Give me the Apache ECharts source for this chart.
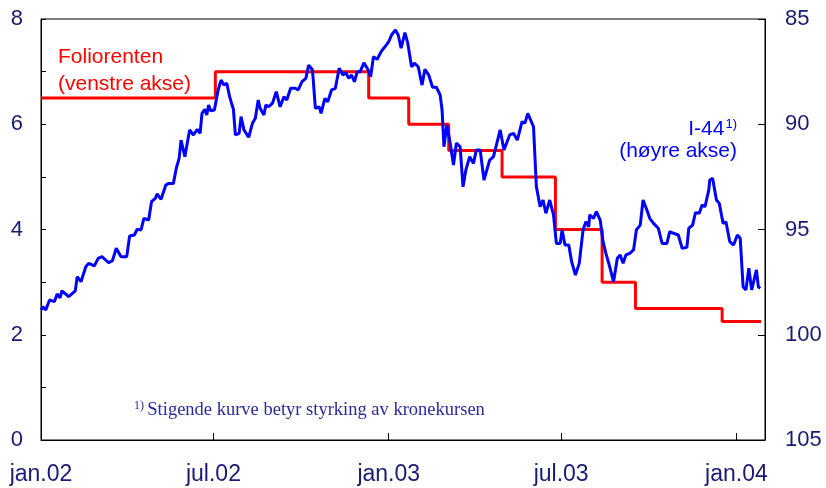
<!DOCTYPE html>
<html>
<head>
<meta charset="utf-8">
<script src="https://cdn.jsdelivr.net/npm/echarts@6/dist/echarts.min.js"></script>
<style>
    html, body { margin: 0; padding: 0; background: #fff; }
    #chart { width: 826px; height: 488px; }
</style>
</head>
<body>
<div id="chart"></div>
<script>
'use strict';

// Foliorenten, venstre akse (trappetrinn ved rentemøtene)
var rateDates = ['2002-01-01', '2002-07-03', '2002-12-11', '2003-01-22', '2003-03-05', '2003-04-30',
    '2003-06-25', '2003-08-13', '2003-09-17', '2003-12-17', '2004-01-27'];
var rateValues = [6.5, 7.0, 6.5, 6.0, 5.5, 5.0, 4.0, 3.0, 2.5, 2.25, 2.25];

// I-44, høyre akse (invertert)
var indexDates = [
    '2002-01-01', '2002-01-03', '2002-01-06', '2002-01-10', '2002-01-15', '2002-01-18', '2002-01-21', '2002-01-23', '2002-01-30',
    '2002-02-06', '2002-02-08', '2002-02-12', '2002-02-17', '2002-02-20', '2002-02-26', '2002-03-02', '2002-03-06', '2002-03-13', '2002-03-17', '2002-03-21', '2002-03-26', '2002-04-01',
    '2002-04-04', '2002-04-09', '2002-04-12', '2002-04-16', '2002-04-19', '2002-04-24', '2002-04-27', '2002-05-01', '2002-05-03', '2002-05-07', '2002-05-12', '2002-05-15',
    '2002-05-20', '2002-05-23', '2002-05-26', '2002-05-28', '2002-06-01', '2002-06-06', '2002-06-10', '2002-06-14', '2002-06-17', '2002-06-19', '2002-06-22', '2002-06-24', '2002-06-26', '2002-06-28',
    '2002-07-02', '2002-07-06', '2002-07-09', '2002-07-12', '2002-07-15', '2002-07-18', '2002-07-20', '2002-07-22', '2002-07-24', '2002-07-28', '2002-07-30', '2002-08-02', '2002-08-07', '2002-08-11', '2002-08-14',
    '2002-08-17', '2002-08-19', '2002-08-23', '2002-08-25', '2002-08-28', '2002-09-01', '2002-09-05', '2002-09-09', '2002-09-13', '2002-09-16', '2002-09-20', '2002-09-25', '2002-09-28',
    '2002-10-02', '2002-10-06', '2002-10-09', '2002-10-13', '2002-10-16', '2002-10-20', '2002-10-22', '2002-10-26', '2002-10-29', '2002-11-02', '2002-11-06',
    '2002-11-10', '2002-11-14', '2002-11-17', '2002-11-20', '2002-11-23', '2002-11-26', '2002-11-29', '2002-12-02', '2002-12-06', '2002-12-10', '2002-12-13', '2002-12-16', '2002-12-20', '2002-12-24', '2002-12-28',
    '2003-01-01', '2003-01-04', '2003-01-08', '2003-01-11', '2003-01-14', '2003-01-18', '2003-01-21', '2003-01-25', '2003-01-28', '2003-02-01', '2003-02-05', '2003-02-08', '2003-02-12', '2003-02-16', '2003-02-20', '2003-02-24',
    '2003-02-26', '2003-02-28', '2003-03-03', '2003-03-06', '2003-03-10', '2003-03-13', '2003-03-17', '2003-03-20', '2003-03-23', '2003-03-27', '2003-03-31', '2003-04-03', '2003-04-07', '2003-04-11', '2003-04-17', '2003-04-21',
    '2003-04-28', '2003-05-02', '2003-05-08', '2003-05-12', '2003-05-16', '2003-05-21', '2003-05-24', '2003-05-27', '2003-06-02', '2003-06-05', '2003-06-09', '2003-06-12',
    '2003-06-15', '2003-06-19', '2003-06-23', '2003-06-26', '2003-06-30', '2003-07-02', '2003-07-05', '2003-07-09', '2003-07-12', '2003-07-16', '2003-07-20', '2003-07-24', '2003-07-27', '2003-07-30', '2003-07-31',
    '2003-08-04', '2003-08-07', '2003-08-11', '2003-08-14', '2003-08-17', '2003-08-21', '2003-08-25', '2003-08-29', '2003-09-01', '2003-09-04', '2003-09-07', '2003-09-11', '2003-09-15', '2003-09-18', '2003-09-22', '2003-09-25', '2003-09-29',
    '2003-10-02', '2003-10-06', '2003-10-11', '2003-10-15', '2003-10-20', '2003-10-23', '2003-10-27', '2003-11-01', '2003-11-05', '2003-11-10', '2003-11-12', '2003-11-16', '2003-11-19', '2003-11-23', '2003-11-26', '2003-11-29',
    '2003-12-03', '2003-12-04', '2003-12-07', '2003-12-11', '2003-12-14', '2003-12-18', '2003-12-21', '2003-12-25', '2003-12-29',
    '2004-01-02', '2004-01-05', '2004-01-08', '2004-01-11', '2004-01-14', '2004-01-17', '2004-01-22', '2004-01-24', '2004-01-26'
];
var indexValues = [
    98.82, 98.67, 98.82, 98.35, 98.43, 98.06, 98.25, 97.91, 98.19,
    97.91, 97.24, 97.48, 96.77, 96.61, 96.73, 96.37, 96.29, 96.58, 96.48, 95.89, 96.29, 96.29,
    95.31, 95.26, 94.99, 95.02, 94.47, 94.55, 93.68, 93.52, 93.31, 93.57, 92.89, 92.81,
    92.81, 92.09, 91.62, 90.75, 91.54, 90.27, 90.51, 90.24, 90.43, 89.48, 89.29, 89.56, 89.09, 89.36,
    89.32, 88.37, 87.90, 88.14, 88.05, 88.69, 89.00, 89.29, 90.51, 90.43, 89.64, 90.27, 90.62, 89.95, 89.72,
    88.85, 89.24, 89.56, 89.09, 89.17, 89.00, 88.45, 89.17, 88.69, 88.85, 88.29, 88.29, 88.37,
    87.98, 87.82, 87.19, 87.42, 89.24, 89.17, 89.48, 88.77, 88.93, 88.37, 88.29,
    87.34, 87.66, 87.55, 87.82, 87.66, 87.98, 87.50, 87.50, 87.08, 87.39, 87.74, 86.79, 86.91, 86.55, 86.32,
    86.08, 85.76, 85.52, 85.76, 86.39, 85.65, 86.15, 87.27, 87.10, 87.27, 88.14, 87.39, 87.66, 88.24, 88.24, 88.61,
    89.32, 91.07, 90.04, 90.75, 91.94, 90.90, 91.07, 92.97, 92.17, 91.54, 91.86, 91.22, 91.22, 92.65, 91.70, 91.54,
    90.27, 91.22, 90.51, 90.43, 90.75, 89.88, 89.95, 89.48, 90.12, 92.97, 93.92, 93.60,
    94.23, 93.60, 94.31, 95.66, 95.66, 95.02, 95.74, 95.74, 96.53, 97.16, 96.61, 95.02, 94.63, 94.87, 94.31,
    94.47, 94.15, 94.55, 95.58, 96.13, 96.77, 97.48, 96.37, 96.21, 96.61, 96.21, 96.13, 95.97, 95.02, 94.79, 93.60, 94.07,
    94.47, 94.71, 94.94, 95.66, 95.66, 95.10, 95.18, 95.26, 95.89, 95.85, 94.94, 94.79, 94.20, 94.23, 93.84, 93.92,
    93.12, 92.65, 92.57, 93.60, 93.76, 94.71, 94.63, 95.58, 95.74,
    95.26, 95.42, 97.72, 97.87, 96.84, 97.87, 96.92, 97.72, 97.79
];

// x-akse
var xMinDate = '2002-01-01';
var xMaxDate = '2004-01-31';
var xTickDates = ['2002-01-01', '2002-07-01', '2003-01-01', '2003-07-01', '2004-01-01'];
var xTickLabels = ['jan.02', 'jul.02', 'jan.03', 'jul.03', 'jan.04'];

var navy = '#1a1a72';

function toTime(s) {
    var p = s.split('-');
    return Date.UTC(+p[0], +p[1] - 1, +p[2]);
}

function zip(dates, values) {
    var out = [];
    for (var i = 0; i < dates.length; i++) {
        out.push([toTime(dates[i]), values[i]]);
    }
    return out;
}

var xTicks = xTickDates.map(toTime);

var chart = echarts.init(document.getElementById('chart'), null, {renderer: 'canvas'});

var option = {
    animation: false,
    backgroundColor: '#fff',
    textStyle: {fontFamily: 'Liberation Sans, Arial, sans-serif'},
    grid: {
        left: 41, right: 61, top: 19, bottom: 48,
        show: true, borderColor: '#000', borderWidth: 1
    },
    // datoene ligger som tidsstempler på en verdiakse, slik at tikkene kan settes fritt
    xAxis: {
        type: 'value',
        min: toTime(xMinDate),
        max: toTime(xMaxDate),
        axisLine: {onZero: false, lineStyle: {color: '#000', width: 1}},
        axisTick: {show: true, inside: true, length: 7, customValues: xTicks, lineStyle: {color: '#000'}},
        splitLine: {show: false},
        axisLabel: {
            customValues: xTicks,
            hideOverlap: false,
            showMinLabel: true,
            margin: 23,
            fontSize: 23,
            color: navy,
            formatter: function (v) {
                var i = xTicks.indexOf(v);
                return i > -1 ? xTickLabels[i] : '';
            }
        }
    },
    yAxis: [{
        type: 'value',
        min: 0, max: 8, interval: 1,
        position: 'left',
        axisLine: {show: true, lineStyle: {color: '#000'}},
        axisTick: {show: true, inside: true, length: 5, lineStyle: {color: '#000'}},
        splitLine: {show: false},
        axisLabel: {
            fontSize: 22, color: navy, margin: 18,
            formatter: function (v) {
                return v % 2 === 0 ? String(v) : '';
            }
        }
    }, {
        type: 'value',
        min: 85, max: 105, interval: 5,
        inverse: true,
        position: 'right',
        axisLine: {show: true, lineStyle: {color: '#000'}},
        axisTick: {show: true, inside: true, length: 7, lineStyle: {color: '#000'}},
        splitLine: {show: false},
        axisLabel: {fontSize: 22, color: navy, margin: 20}
    }],
    series: [{
        name: 'Foliorenten',
        type: 'line',
        step: 'end',
        yAxisIndex: 0,
        showSymbol: false,
        symbol: 'none',
        lineStyle: {color: '#ff0000', width: 3},
        data: zip(rateDates, rateValues)
    }, {
        name: 'I-44',
        type: 'line',
        yAxisIndex: 1,
        showSymbol: false,
        symbol: 'none',
        lineStyle: {color: '#0000ff', width: 3},
        data: zip(indexDates, indexValues)
    }],
    graphic: [{
        type: 'text', x: 58, y: 57,
        style: {text: 'Foliorenten', fill: '#ff0000', fontSize: 21, fontFamily: 'Liberation Sans', verticalAlign: 'middle'}
    }, {
        type: 'text', x: 58, y: 84,
        style: {text: '(venstre akse)', fill: '#ff0000', fontSize: 21, fontFamily: 'Liberation Sans', verticalAlign: 'middle'}
    }, {
        type: 'text', x: 737, y: 129,
        style: {
            text: '{m|I-44}{s|1)}',
            align: 'right', verticalAlign: 'middle',
            rich: {
                m: {fill: '#0000ff', fontSize: 21, fontFamily: 'Liberation Sans'},
                s: {fill: '#0000ff', fontSize: 13, fontFamily: 'Liberation Sans', padding: [0, 0, 9, 1]}
            }
        }
    }, {
        type: 'text', x: 737, y: 151,
        style: {text: '(høyre akse)', fill: '#0000ff', fontSize: 21, fontFamily: 'Liberation Sans', align: 'right', verticalAlign: 'middle'}
    }, {
        type: 'text', x: 134, y: 410,
        style: {
            text: '{s|1)} {m|Stigende kurve betyr styrking av kronekursen}',
            verticalAlign: 'middle',
            rich: {
                m: {fill: '#2a2a9a', fontSize: 18.5, fontFamily: 'Liberation Serif'},
                s: {fill: '#2a2a9a', fontSize: 12, fontFamily: 'Liberation Serif', padding: [0, 0, 8, 0]}
            }
        }
    }]
};

chart.setOption(option);
</script>
</body>
</html>
